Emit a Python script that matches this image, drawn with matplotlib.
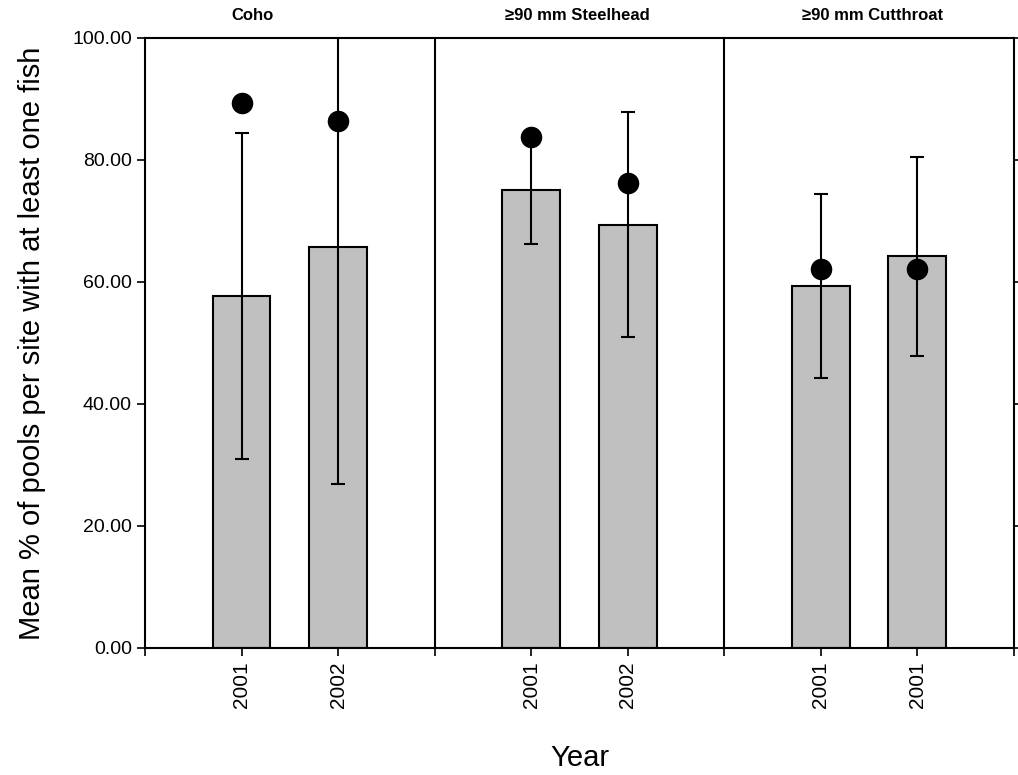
import matplotlib
matplotlib.use("Agg")
import matplotlib.pyplot as plt

# values
groups = ["Coho", "\u226590 mm Steelhead", "\u226590 mm Cutthroat"]
year_labels = ["2001", "2002", "2001", "2002", "2001", "2001"]
bar_means = [57.7, 65.8, 75.0, 69.4, 59.3, 64.2]
bar_err = [26.8, 39.0, 8.8, 18.5, 15.1, 16.3]
dot_values = [89.3, 86.4, 83.8, 76.2, 62.2, 62.2]
title_x = [1.11, 4.48, 7.54]

plt.rcParams["font.family"] = ["Liberation Sans", "DejaVu Sans"]

# two bars per group, groups 3 units wide
pos = [g * 3 + 1 + j for g in range(len(groups)) for j in range(2)]
dividers = [3, 6]

fig = plt.figure(figsize=(10.18, 7.75), dpi=100)
ax = fig.add_axes([0.1424, 0.1639, 0.8537, 0.951 - 0.1639])

ax.bar(pos, bar_means, width=0.6, color="#c0c0c0", edgecolor="black",
       linewidth=1.5, zorder=2)
ax.errorbar(pos, bar_means, yerr=bar_err, fmt="none", ecolor="black",
            elinewidth=1.5, capsize=4.7, capthick=1.5, zorder=3)
ax.plot(pos, dot_values, "o", color="black", markersize=14.5, zorder=4)

for d in dividers:
    ax.axvline(d, color="black", linewidth=1.5, zorder=1)

ax.set_xlim(0, 9)
ax.set_ylim(0, 100)
ax.set_yticks(range(0, 101, 20))
ax.set_yticklabels([f"{v:.2f}" for v in range(0, 101, 20)])
ax.set_xticks([0] + pos + dividers + [9])
ax.set_xticklabels([""] + year_labels + ["", "", ""], rotation=90)

ax.tick_params(axis="both", direction="out", length=6, width=1.2,
               labelsize=14, right=True, labelright=False)
ax.tick_params(axis="x", labelsize=15)
for s in ax.spines.values():
    s.set_linewidth(1.5)

for x, name in zip(title_x, groups):
    ax.text(x, 102.5, name, ha="center", va="bottom", fontsize=12,
            fontweight="bold")

ax.set_ylabel("Mean % of pools per site with at least one fish", fontsize=21,
              labelpad=19)
ax.set_xlabel("Year", fontsize=21, labelpad=26)

fig.savefig("out.png", dpi=100)
